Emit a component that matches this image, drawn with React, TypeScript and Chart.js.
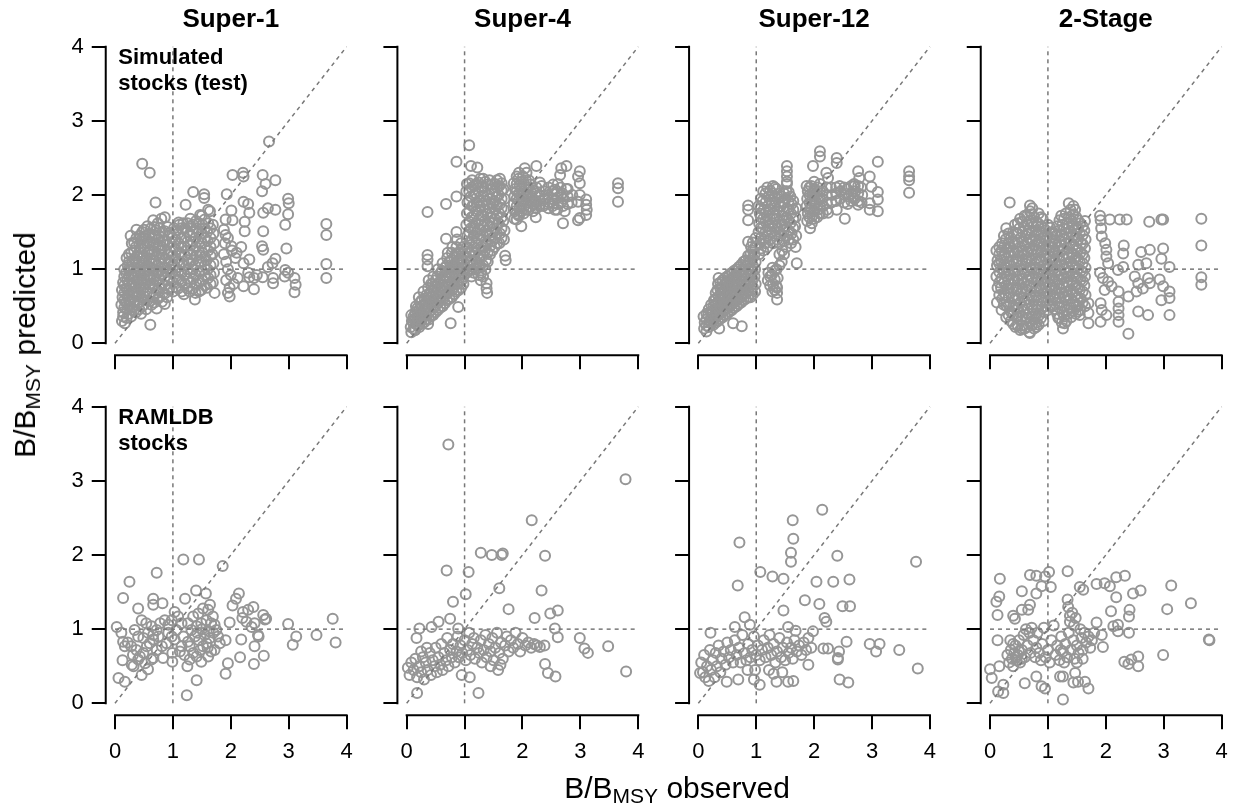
import React, { useEffect, useRef } from "react";
import { Chart, registerables } from "chart.js";
Chart.register(...registerables);

type Pt = [number, number];

const methodTitles = ["Super-1", "Super-4", "Super-12", "2-Stage"];
const rowLabels = [["Simulated", "stocks (test)"], ["RAMLDB", "stocks"]];
const tickValues = [0, 1, 2, 3, 4];
const axisMin = -0.16;
const axisMax = 4.16;
const vLine: Pt[] = [[1, 0], [1, 4]];
const hLine: Pt[] = [[0, 1], [4, 1]];
const oneToOne: Pt[] = [[0, 0], [4, 4]];

const simSuper1: Pt[] = [
  [2.66,2.72],[0.47,2.42],[0.60,2.30],[2.03,2.27],[2.21,2.30],[2.22,2.25],[2.55,2.27],[2.60,2.15],[2.77,2.20],[2.54,2.05],[1.35,2.04],[1.54,2.01],[1.54,1.96],[1.93,2.01],[1.22,1.87],[0.70,1.90],[2.22,1.91],[2.30,1.88],[2.99,1.95],[3.00,1.89],[2.64,1.82],[2.77,1.80],[2.56,1.76],[2.01,1.79],[2.32,1.76],[2.99,1.74],[1.91,1.67],[2.03,1.66],[2.24,1.64],[2.94,1.60],[3.65,1.61],[3.65,1.46],[2.56,1.51],[2.24,1.51],[1.88,1.53],[1.91,1.46],[2.96,1.28],[2.54,1.31],[2.56,1.26],[2.01,1.31],[2.10,1.22],[2.32,1.13],[2.22,1.08],[2.77,1.14],[2.72,1.08],[2.64,1.03],[3.65,1.07],[3.65,0.88],[2.94,0.99],[2.99,0.95],[3.10,0.88],[3.12,0.79],[3.10,0.69],[2.93,0.90],[2.73,0.88],[2.73,0.81],[2.55,0.89],[2.32,0.89],[2.40,0.88],[2.40,0.73],[2.22,0.77],[1.95,0.68],[1.98,0.63],[1.72,0.68],[1.38,0.59],[0.86,0.53],[0.61,0.25],[0.17,0.27],[0.14,0.36],
  [0.37,1.53],[0.66,1.66],[0.80,1.68],[0.86,1.70],[1.10,1.63],[1.18,1.62],[1.47,1.73],[1.61,1.80],[1.64,1.78],
  [0.12,0.30],[0.14,0.42],[0.11,0.52],[0.13,0.62],[0.12,0.72],[0.14,0.82],
  [0.20,0.34],[0.21,0.45],[0.19,0.55],[0.22,0.64],[0.20,0.74],[0.21,0.85],[0.19,0.95],[0.22,1.05],[0.20,1.15],
  [0.28,0.36],[0.29,0.48],[0.27,0.58],[0.30,0.68],[0.28,0.78],[0.29,0.90],[0.27,1.00],[0.30,1.10],[0.28,1.22],[0.29,1.35],[0.27,1.45],
  [0.36,0.42],[0.38,0.52],[0.37,0.63],[0.35,0.75],[0.38,0.85],[0.36,0.96],[0.37,1.08],[0.38,1.18],[0.36,1.30],[0.37,1.42],
  [0.45,0.40],[0.47,0.50],[0.46,0.61],[0.44,0.72],[0.47,0.82],[0.45,0.93],[0.46,1.05],[0.48,1.15],[0.45,1.28],[0.46,1.40],[0.47,1.50],
  [0.54,0.46],[0.56,0.58],[0.55,0.68],[0.53,0.80],[0.56,0.90],[0.55,1.00],[0.54,1.12],[0.56,1.22],[0.55,1.35],[0.53,1.45],[0.56,1.58],
  [0.63,0.52],[0.65,0.62],[0.64,0.75],[0.62,0.85],[0.65,0.98],[0.64,1.08],[0.63,1.20],[0.65,1.32],[0.64,1.42],[0.62,1.55],
  [0.72,0.47],[0.74,0.60],[0.73,0.72],[0.71,0.85],[0.74,0.95],[0.73,1.05],[0.72,1.18],[0.74,1.30],[0.73,1.40],[0.71,1.52],[0.74,1.62],
  [0.81,0.56],[0.83,0.68],[0.82,0.80],[0.80,0.92],[0.83,1.02],[0.82,1.15],[0.81,1.25],[0.83,1.38],[0.82,1.50],
  [0.90,0.62],[0.92,0.73],[0.91,0.85],[0.89,0.96],[0.92,1.10],[0.91,1.20],[0.90,1.33],[0.92,1.45],[0.91,1.57],
  [1.00,0.70],[1.01,0.82],[0.99,0.95],[1.02,1.05],[1.00,1.18],[1.01,1.30],[0.99,1.42],[1.02,1.55],
  [1.09,0.74],[1.11,0.86],[1.10,0.98],[1.08,1.10],[1.11,1.22],[1.10,1.35],[1.09,1.48],[1.11,1.60],
  [1.19,0.66],[1.21,0.80],[1.20,0.92],[1.18,1.05],[1.21,1.18],[1.20,1.30],[1.19,1.42],[1.21,1.55],
  [1.29,0.70],[1.31,0.82],[1.30,0.95],[1.28,1.08],[1.31,1.20],[1.30,1.32],[1.29,1.45],[1.31,1.58],[1.30,1.68],
  [1.39,0.68],[1.41,0.80],[1.40,0.92],[1.38,1.05],[1.41,1.18],[1.40,1.30],[1.39,1.42],[1.41,1.55],[1.40,1.65],
  [1.49,0.72],[1.51,0.85],[1.50,0.98],[1.48,1.10],[1.51,1.22],[1.50,1.35],[1.49,1.48],[1.51,1.60],[1.50,1.72],
  [1.59,0.75],[1.61,0.88],[1.60,1.00],[1.58,1.12],[1.61,1.25],[1.60,1.38],[1.59,1.50],[1.61,1.62],
  [1.69,0.82],[1.71,0.95],[1.70,1.08],[1.68,1.20],[1.71,1.35],[1.70,1.48],[1.69,1.60],
  [1.88,1.20],[1.92,1.10],[1.95,1.00],[2.00,0.92],[1.92,0.85],[2.05,0.80],[1.98,0.75],[2.08,1.15],[1.90,1.35],[2.02,1.25],[1.95,1.42],[2.12,0.88],[2.18,1.30],[2.30,0.95],[2.45,0.92]
];
const simSuper1Core: Pt[] = [
  [0.16,0.48],[0.16,0.58],[0.16,0.68],[0.16,0.78],[0.16,0.90],[0.16,1.00],
  [0.24,0.40],[0.24,0.50],[0.24,0.60],[0.24,0.70],[0.24,0.80],[0.24,0.90],[0.24,1.00],[0.24,1.10],[0.24,1.20],
  [0.33,0.45],[0.33,0.57],[0.33,0.70],[0.33,0.80],[0.33,0.92],[0.33,1.02],[0.33,1.14],[0.33,1.25],[0.33,1.36],
  [0.42,0.46],[0.42,0.56],[0.42,0.67],[0.42,0.78],[0.42,0.88],[0.42,1.00],[0.42,1.10],[0.42,1.22],[0.42,1.34],[0.42,1.45],
  [0.50,0.52],[0.50,0.63],[0.50,0.75],[0.50,0.86],[0.50,0.96],[0.50,1.08],[0.50,1.18],[0.50,1.30],[0.50,1.42],[0.50,1.53],
  [0.60,0.57],[0.60,0.68],[0.60,0.80],[0.60,0.92],[0.60,1.03],[0.60,1.14],[0.60,1.26],[0.60,1.37],[0.60,1.48],
  [0.68,0.55],[0.68,0.67],[0.68,0.79],[0.68,0.90],[0.68,1.00],[0.68,1.12],[0.68,1.24],[0.68,1.35],[0.68,1.46],[0.68,1.57],
  [0.77,0.62],[0.77,0.74],[0.77,0.86],[0.77,0.97],[0.77,1.08],[0.77,1.20],[0.77,1.32],[0.77,1.44],[0.77,1.56],
  [0.86,0.67],[0.86,0.78],[0.86,0.90],[0.86,1.02],[0.86,1.14],[0.86,1.26],[0.86,1.39],[0.86,1.51],
  [0.95,0.76],[0.95,0.88],[0.95,1.00],[0.95,1.12],[0.95,1.24],[0.95,1.36],[0.95,1.49],
  [1.05,0.76],[1.05,0.90],[1.05,1.02],[1.05,1.14],[1.05,1.26],[1.05,1.40],[1.05,1.52],
  [1.15,0.70],[1.15,0.83],[1.15,0.95],[1.15,1.08],[1.15,1.20],[1.15,1.30],[1.15,1.42],[1.15,1.55],
  [1.25,0.74],[1.25,0.87],[1.25,1.00],[1.25,1.12],[1.25,1.25],[1.25,1.37],[1.25,1.50],[1.25,1.62],
  [1.35,0.74],[1.35,0.87],[1.35,1.00],[1.35,1.12],[1.35,1.25],[1.35,1.37],[1.35,1.50],[1.35,1.60],
  [1.45,0.70],[1.45,0.84],[1.45,0.97],[1.45,1.10],[1.45,1.24],[1.45,1.36],[1.45,1.50],[1.45,1.62],
  [1.55,0.78],[1.55,0.92],[1.55,1.05],[1.55,1.17],[1.55,1.30],[1.55,1.42],[1.55,1.55],[1.55,1.67],
  [1.65,0.80],[1.65,0.92],[1.65,1.05],[1.65,1.18],[1.65,1.30],[1.65,1.42],[1.65,1.55]
];

const simSuper4: Pt[] = [
  [3.65,2.16],[3.65,2.09],[3.65,1.91],[1.08,2.67],[0.86,2.45],[1.11,2.39],[1.22,2.37],[0.36,1.77],[0.68,1.88],[0.86,1.98],[0.68,1.41],[0.86,1.50],[0.36,1.19],[0.36,1.13],[0.36,1.04],[1.70,1.18],[1.71,1.12],[1.38,0.81],[1.38,0.74],[1.39,0.68],[0.76,0.27],[0.37,0.26],[0.14,0.18],[0.89,0.49],
  [2.04,2.36],[2.24,2.39],[2.07,2.30],[2.67,2.36],[2.76,2.39],[2.65,2.27],[2.99,2.32],[2.96,2.25],[2.99,2.16],[2.30,2.17],[2.33,2.12],[2.53,2.14],[2.56,2.07],[2.76,2.08],[2.99,2.00],[3.10,1.94],[3.10,1.87],[3.11,1.80],[3.10,1.73],[2.96,1.91],[2.99,1.69],[2.96,1.66],[2.70,1.62],[2.73,1.78],[2.53,1.89],[2.56,1.80],[2.39,1.94],[2.24,1.87],[2.36,1.85],[2.23,1.70],[1.98,1.58],[1.90,1.67],[1.93,1.73],
  [0.08,0.15],[0.07,0.22],[0.09,0.30],[0.08,0.38],
  [0.15,0.18],[0.16,0.26],[0.14,0.33],[0.15,0.42],[0.16,0.50],
  [0.22,0.22],[0.23,0.30],[0.21,0.38],[0.22,0.46],[0.23,0.55],[0.21,0.62],
  [0.30,0.28],[0.31,0.36],[0.29,0.44],[0.30,0.52],[0.31,0.60],[0.29,0.70],
  [0.38,0.32],[0.39,0.42],[0.37,0.50],[0.38,0.58],[0.39,0.66],[0.37,0.75],[0.38,0.85],
  [0.46,0.38],[0.47,0.48],[0.45,0.56],[0.46,0.64],[0.47,0.72],[0.45,0.80],[0.46,0.90],
  [0.54,0.45],[0.55,0.55],[0.53,0.63],[0.54,0.72],[0.55,0.80],[0.53,0.90],[0.54,1.00],
  [0.62,0.50],[0.63,0.60],[0.61,0.70],[0.62,0.78],[0.63,0.88],[0.61,0.98],[0.62,1.08],
  [0.70,0.58],[0.71,0.68],[0.69,0.78],[0.70,0.88],[0.71,0.96],[0.69,1.05],[0.70,1.15],[0.71,1.22],
  [0.78,0.62],[0.79,0.72],[0.77,0.82],[0.78,0.92],[0.79,1.02],[0.77,1.12],[0.78,1.22],[0.79,1.30],
  [0.86,0.70],[0.87,0.80],[0.85,0.90],[0.86,1.00],[0.87,1.10],[0.85,1.20],[0.86,1.30],[0.87,1.40],
  [0.94,0.75],[0.95,0.85],[0.93,0.95],[0.94,1.05],[0.95,1.15],[0.93,1.25],[0.94,1.35],
  [1.04,0.95],[1.05,1.05],[1.03,1.15],[1.04,1.30],[1.05,1.45],[1.03,1.60],[1.04,1.75],[1.05,1.90],[1.03,2.05],[1.04,2.15],
  [1.12,0.90],[1.13,1.00],[1.11,1.12],[1.12,1.25],[1.13,1.40],[1.11,1.55],[1.12,1.70],[1.13,1.85],[1.11,1.98],[1.12,2.10],[1.13,2.20],
  [1.20,1.00],[1.21,1.10],[1.19,1.22],[1.20,1.35],[1.21,1.50],[1.19,1.62],[1.20,1.78],[1.21,1.90],[1.19,2.02],[1.20,2.15],
  [1.28,0.85],[1.29,0.95],[1.27,1.05],[1.28,1.18],[1.29,1.30],[1.27,1.45],[1.28,1.60],[1.29,1.72],[1.27,1.85],[1.28,1.98],[1.29,2.10],[1.27,2.22],
  [1.36,1.00],[1.37,1.12],[1.35,1.25],[1.36,1.38],[1.37,1.52],[1.35,1.65],[1.36,1.80],[1.37,1.92],[1.35,2.05],[1.36,2.18],
  [1.44,1.20],[1.45,1.32],[1.43,1.45],[1.44,1.58],[1.45,1.70],[1.43,1.82],[1.44,1.95],[1.45,2.08],[1.43,2.20],
  [1.52,1.30],[1.53,1.42],[1.51,1.55],[1.52,1.68],[1.53,1.80],[1.51,1.92],[1.52,2.05],[1.53,2.15],
  [1.60,1.35],[1.61,1.48],[1.59,1.62],[1.60,1.75],[1.61,1.88],[1.59,2.00],[1.60,2.12],[1.61,2.22],
  [1.68,1.40],[1.69,1.52],[1.67,1.65],[1.68,1.80],[1.69,1.95],[1.67,2.08],
  [1.86,1.68],[1.87,1.78],[1.85,1.88],[1.86,1.98],[1.87,2.08],[1.85,2.16],
  [1.94,1.72],[1.95,1.82],[1.93,1.92],[1.94,2.02],[1.95,2.12],[1.93,2.22],[1.94,2.30],
  [2.02,1.75],[2.03,1.85],[2.01,1.95],[2.02,2.05],[2.03,2.15],[2.01,2.25],
  [2.10,1.80],[2.11,1.90],[2.09,2.00],[2.10,2.10],[2.11,2.20],
  [2.18,1.78],[2.19,1.88],[2.17,1.96],[2.18,2.06],
  [2.30,1.85],[2.31,1.92],[2.29,2.00],
  [2.45,1.82],[2.46,1.90],[2.44,2.00],[2.45,2.10],
  [2.60,1.80],[2.61,1.88],[2.59,1.96],[2.60,2.05],[2.61,2.15],
  [2.70,1.85],[2.71,1.95],[2.69,2.02],
  [2.85,1.90],[2.86,2.00]
];
const simSuper4Core: Pt[] = [
  [0.12,0.20],[0.12,0.28],[0.12,0.36],
  [0.19,0.24],[0.19,0.32],[0.19,0.40],[0.19,0.48],
  [0.26,0.26],[0.26,0.34],[0.26,0.42],[0.26,0.50],[0.26,0.58],
  [0.34,0.32],[0.34,0.40],[0.34,0.48],[0.34,0.56],[0.34,0.65],
  [0.42,0.37],[0.42,0.45],[0.42,0.54],[0.42,0.62],[0.42,0.70],[0.42,0.80],
  [0.50,0.42],[0.50,0.51],[0.50,0.60],[0.50,0.68],[0.50,0.76],[0.50,0.85],
  [0.58,0.48],[0.58,0.58],[0.58,0.67],[0.58,0.75],[0.58,0.84],[0.58,0.94],
  [0.66,0.54],[0.66,0.64],[0.66,0.74],[0.66,0.83],[0.66,0.92],[0.66,1.02],
  [0.74,0.60],[0.74,0.70],[0.74,0.80],[0.74,0.90],[0.74,1.00],[0.74,1.10],
  [0.82,0.66],[0.82,0.76],[0.82,0.86],[0.82,0.96],[0.82,1.06],[0.82,1.16],
  [0.90,0.72],[0.90,0.82],[0.90,0.92],[0.90,1.02],[0.90,1.12],[0.90,1.22],
  [0.98,0.80],[0.98,0.90],[0.98,1.00],[0.98,1.10],[0.98,1.20],[0.98,1.30],
  [1.08,0.98],[1.08,1.10],[1.08,1.22],[1.08,1.36],[1.08,1.50],[1.08,1.64],[1.08,1.78],[1.08,1.92],[1.08,2.05],[1.08,2.16],
  [1.16,0.95],[1.16,1.06],[1.16,1.18],[1.16,1.30],[1.16,1.45],[1.16,1.58],[1.16,1.72],[1.16,1.86],[1.16,2.00],[1.16,2.12],
  [1.24,0.92],[1.24,1.02],[1.24,1.14],[1.24,1.26],[1.24,1.40],[1.24,1.54],[1.24,1.66],[1.24,1.80],[1.24,1.92],[1.24,2.05],[1.24,2.17],
  [1.32,0.90],[1.32,1.05],[1.32,1.18],[1.32,1.32],[1.32,1.45],[1.32,1.58],[1.32,1.72],[1.32,1.86],[1.32,1.98],[1.32,2.12],[1.32,2.22],
  [1.40,1.10],[1.40,1.22],[1.40,1.35],[1.40,1.48],[1.40,1.60],[1.40,1.74],[1.40,1.88],[1.40,2.00],[1.40,2.14],
  [1.48,1.25],[1.48,1.38],[1.48,1.50],[1.48,1.62],[1.48,1.76],[1.48,1.88],[1.48,2.02],[1.48,2.14],
  [1.56,1.35],[1.56,1.48],[1.56,1.60],[1.56,1.72],[1.56,1.85],[1.56,1.98],[1.56,2.10],[1.56,2.20],
  [1.64,1.42],[1.64,1.55],[1.64,1.70],[1.64,1.82],[1.64,1.95],[1.64,2.06],[1.64,2.16],
  [1.90,1.75],[1.90,1.85],[1.90,1.95],[1.90,2.05],[1.90,2.15],[1.90,2.25],
  [1.98,1.78],[1.98,1.88],[1.98,1.98],[1.98,2.08],[1.98,2.18],
  [2.06,1.80],[2.06,1.90],[2.06,2.00],[2.06,2.10],[2.06,2.20],
  [2.14,1.84],[2.14,1.94],[2.14,2.04],[2.14,2.14],
  [2.24,1.82],[2.24,1.92],[2.24,2.02],[2.24,2.10],
  [2.38,1.88],[2.38,1.96],[2.38,2.05],
  [2.52,1.85],[2.52,1.95],[2.52,2.05],
  [2.66,1.90],[2.66,2.00],[2.66,2.10],
  [2.78,1.88],[2.78,1.98],[2.78,2.08]
];

const simSuper12: Pt[] = [
  [2.10,2.59],[2.10,2.52],[2.39,2.50],[2.39,2.43],[3.10,2.45],[3.64,2.32],[3.64,2.25],[3.64,2.20],[3.64,2.03],[1.53,2.39],[1.53,2.32],[1.53,2.25],[1.53,2.18],[0.86,1.86],[0.86,1.80],[0.86,1.66],[0.86,1.37],[1.70,1.08],[1.36,0.59],[1.36,0.68],[1.35,0.77],[0.75,0.23],[0.60,0.27],[0.36,0.20],[0.14,0.16],[1.93,1.55],[2.53,1.68],[3.10,1.78],[3.10,1.94],[3.10,2.04],[2.96,1.80],[2.96,1.89],[2.99,2.11],[2.96,2.25],[2.76,2.32],[2.78,2.23],[2.70,2.12],[2.67,1.96],[2.76,1.87],[2.21,2.30],[2.24,2.23],[1.98,2.39],[2.24,1.76],[2.39,1.80],
  [0.10,0.20],[0.11,0.28],[0.09,0.36],
  [0.18,0.22],[0.19,0.30],[0.17,0.38],[0.18,0.46],
  [0.26,0.25],[0.27,0.33],[0.25,0.42],[0.26,0.50],[0.27,0.58],
  [0.34,0.30],[0.35,0.38],[0.33,0.46],[0.34,0.55],[0.35,0.63],[0.33,0.72],[0.34,0.80],[0.35,0.88],
  [0.42,0.35],[0.43,0.43],[0.41,0.52],[0.42,0.60],[0.43,0.68],[0.41,0.76],[0.42,0.85],
  [0.50,0.40],[0.51,0.48],[0.49,0.56],[0.50,0.65],[0.51,0.73],[0.49,0.82],[0.50,0.90],
  [0.58,0.45],[0.59,0.53],[0.57,0.62],[0.58,0.70],[0.59,0.78],[0.57,0.87],[0.58,0.95],
  [0.66,0.50],[0.67,0.58],[0.65,0.66],[0.66,0.75],[0.67,0.83],[0.65,0.92],[0.66,1.00],
  [0.74,0.55],[0.75,0.63],[0.73,0.72],[0.74,0.80],[0.75,0.90],[0.73,0.98],[0.74,1.06],
  [0.82,0.60],[0.83,0.68],[0.81,0.78],[0.82,0.86],[0.83,0.95],[0.81,1.04],[0.82,1.12],
  [0.90,0.62],[0.91,0.72],[0.89,0.82],[0.90,0.92],[0.91,1.00],[0.89,1.10],[0.90,1.20],[0.91,1.30],
  [0.98,0.70],[0.99,0.80],[0.97,0.90],[0.98,1.00],[0.99,1.10],[0.97,1.20],[0.98,1.30],[0.99,1.42],
  [1.05,1.20],[1.06,1.35],[1.04,1.50],[1.05,1.62],[1.06,1.75],[1.04,1.85],
  [1.12,1.25],[1.13,1.40],[1.11,1.55],[1.12,1.68],[1.13,1.80],[1.11,1.92],[1.12,2.05],
  [1.20,0.85],[1.21,0.95],[1.19,1.30],[1.20,1.45],[1.21,1.58],[1.19,1.72],[1.20,1.85],[1.21,1.98],[1.19,2.10],
  [1.28,0.70],[1.29,0.80],[1.27,0.92],[1.28,1.02],[1.29,1.35],[1.27,1.50],[1.28,1.62],[1.29,1.75],[1.27,1.90],[1.28,2.02],[1.29,2.12],
  [1.36,0.75],[1.37,0.88],[1.35,1.00],[1.36,1.40],[1.37,1.55],[1.35,1.68],[1.36,1.80],[1.37,1.95],[1.35,2.08],
  [1.44,1.10],[1.45,1.25],[1.43,1.45],[1.44,1.60],[1.45,1.72],[1.43,1.85],[1.44,1.98],
  [1.52,1.30],[1.53,1.45],[1.51,1.58],[1.52,1.70],[1.53,1.82],[1.51,1.95],[1.52,2.05],[1.53,2.15],
  [1.60,1.35],[1.61,1.48],[1.59,1.62],[1.60,1.75],[1.61,1.88],[1.59,1.98],
  [1.68,1.30],[1.69,1.45],[1.67,1.58],[1.68,1.70],[1.69,1.82],
  [1.88,1.65],[1.89,1.75],[1.87,1.85],[1.88,1.95],[1.89,2.05],[1.87,2.12],
  [1.96,1.62],[1.97,1.72],[1.95,1.82],[1.96,1.92],[1.97,2.02],[1.95,2.12],
  [2.05,1.70],[2.06,1.80],[2.04,1.90],[2.05,2.00],[2.06,2.10],
  [2.15,1.75],[2.16,1.85],[2.14,1.95],[2.15,2.05],
  [2.30,1.90],[2.31,2.00],[2.29,2.10],
  [2.45,1.95],[2.46,2.05],[2.44,2.12],
  [2.58,1.88],[2.59,1.98],[2.57,2.08],
  [2.70,1.95],[2.71,2.05],[2.69,2.15],
  [2.82,1.90],[2.83,2.00],[2.81,2.10]
];
const simSuper12Core: Pt[] = [
  [0.14,0.24],[0.14,0.32],[0.14,0.40],
  [0.22,0.27],[0.22,0.35],[0.22,0.43],[0.22,0.52],
  [0.30,0.28],[0.30,0.36],[0.30,0.44],[0.30,0.52],[0.30,0.60],[0.30,0.68],
  [0.38,0.33],[0.38,0.41],[0.38,0.50],[0.38,0.58],[0.38,0.66],[0.38,0.74],[0.38,0.82],
  [0.46,0.38],[0.46,0.46],[0.46,0.55],[0.46,0.63],[0.46,0.71],[0.46,0.80],[0.46,0.88],
  [0.54,0.43],[0.54,0.51],[0.54,0.60],[0.54,0.68],[0.54,0.76],[0.54,0.85],[0.54,0.93],
  [0.62,0.48],[0.62,0.56],[0.62,0.64],[0.62,0.72],[0.62,0.80],[0.62,0.90],[0.62,0.98],
  [0.70,0.53],[0.70,0.61],[0.70,0.70],[0.70,0.78],[0.70,0.87],[0.70,0.95],[0.70,1.03],
  [0.78,0.58],[0.78,0.66],[0.78,0.75],[0.78,0.83],[0.78,0.92],[0.78,1.00],[0.78,1.10],
  [0.86,0.62],[0.86,0.72],[0.86,0.82],[0.86,0.90],[0.86,1.00],[0.86,1.08],[0.86,1.18],
  [0.94,0.66],[0.94,0.76],[0.94,0.86],[0.94,0.96],[0.94,1.05],[0.94,1.15],[0.94,1.25],[0.94,1.36],
  [1.08,1.28],[1.08,1.42],[1.08,1.56],[1.08,1.70],[1.08,1.82],[1.08,1.95],
  [1.16,1.35],[1.16,1.50],[1.16,1.64],[1.16,1.76],[1.16,1.90],[1.16,2.02],
  [1.24,0.78],[1.24,0.90],[1.24,1.40],[1.24,1.54],[1.24,1.68],[1.24,1.80],[1.24,1.94],[1.24,2.06],
  [1.32,0.72],[1.32,0.86],[1.32,0.98],[1.32,1.45],[1.32,1.58],[1.32,1.72],[1.32,1.86],[1.32,1.98],[1.32,2.10],
  [1.40,1.05],[1.40,1.20],[1.40,1.35],[1.40,1.50],[1.40,1.64],[1.40,1.78],[1.40,1.90],[1.40,2.02],
  [1.48,1.20],[1.48,1.38],[1.48,1.52],[1.48,1.66],[1.48,1.78],[1.48,1.90],[1.48,2.02],
  [1.56,1.40],[1.56,1.52],[1.56,1.66],[1.56,1.80],[1.56,1.92],[1.56,2.04],
  [1.64,1.40],[1.64,1.55],[1.64,1.68],[1.64,1.80],[1.64,1.92],
  [1.92,1.70],[1.92,1.80],[1.92,1.90],[1.92,2.00],[1.92,2.10],
  [2.00,1.68],[2.00,1.78],[2.00,1.88],[2.00,1.98],[2.00,2.08],[2.00,2.18],
  [2.10,1.75],[2.10,1.85],[2.10,1.95],[2.10,2.05],[2.10,2.15],
  [2.22,1.80],[2.22,1.90],[2.22,2.00],[2.22,2.10],
  [2.38,1.92],[2.38,2.02],[2.38,2.10],
  [2.52,1.90],[2.52,2.00],[2.52,2.10],
  [2.64,1.92],[2.64,2.02],[2.64,2.12],
  [2.76,1.92],[2.76,2.02],[2.76,2.12]
];

const sim2Stage: Pt[] = [
  [0.34,1.90],[0.69,1.86],[0.73,1.82],[1.36,1.89],[1.44,1.85],[1.47,1.80],[1.90,1.72],[1.91,1.66],[2.07,1.67],[2.24,1.67],[2.36,1.67],[2.75,1.64],[2.96,1.67],[2.99,1.67],[3.65,1.68],[3.65,1.32],[3.65,0.89],[3.65,0.79],[2.99,1.28],[2.96,1.14],[3.10,1.03],[2.61,1.23],[2.76,1.26],[2.56,1.06],[2.70,1.08],[2.31,1.32],[2.30,1.21],[2.21,0.99],[2.30,1.03],[1.93,1.44],[1.99,1.35],[2.01,1.26],[2.01,1.17],[2.04,1.08],[1.92,1.55],[1.90,0.95],[1.95,0.88],[2.04,0.83],[1.98,0.72],[2.10,0.77],[2.50,0.90],[2.56,0.81],[2.73,0.88],[2.76,0.81],[2.53,0.70],[2.64,0.74],[2.93,0.86],[2.99,0.77],[3.10,0.70],[3.10,0.61],[2.96,0.58],[3.10,0.38],[2.56,0.43],[2.73,0.38],[2.39,0.13],[2.22,0.70],[2.22,0.56],[2.22,0.47],[2.22,0.38],[2.22,0.29],[2.39,0.63],[1.91,0.54],[1.93,0.45],[2.01,0.38],[1.91,0.29],[1.70,0.27],[1.70,0.41],[1.70,0.54],[1.52,0.43],[1.55,0.38],[1.29,0.27],[1.26,0.20],[1.18,0.34],[0.69,0.14],[0.80,0.22],[0.55,0.20],
  [0.12,0.55],[0.13,0.75],[0.11,0.90],[0.12,1.05],[0.13,1.12],[0.11,1.25],
  [0.20,0.45],[0.21,0.60],[0.19,0.75],[0.20,0.88],[0.21,1.00],[0.19,1.12],[0.20,1.25],[0.21,1.35],
  [0.28,0.35],[0.29,0.50],[0.27,0.65],[0.28,0.78],[0.29,0.90],[0.27,1.02],[0.28,1.15],[0.29,1.28],[0.27,1.40],[0.28,1.55],
  [0.36,0.30],[0.37,0.42],[0.35,0.55],[0.36,0.68],[0.37,0.80],[0.35,0.92],[0.36,1.05],[0.37,1.18],[0.35,1.30],[0.36,1.42],
  [0.44,0.22],[0.45,0.35],[0.43,0.48],[0.44,0.60],[0.45,0.72],[0.43,0.85],[0.44,0.98],[0.45,1.10],[0.43,1.22],[0.44,1.35],[0.45,1.48],[0.43,1.60],
  [0.52,0.18],[0.53,0.30],[0.51,0.42],[0.52,0.55],[0.53,0.68],[0.51,0.80],[0.52,0.92],[0.53,1.05],[0.51,1.18],[0.52,1.30],[0.53,1.42],[0.51,1.55],[0.52,1.68],
  [0.60,0.20],[0.61,0.32],[0.59,0.45],[0.60,0.58],[0.61,0.70],[0.59,0.82],[0.60,0.95],[0.61,1.08],[0.59,1.20],[0.60,1.32],[0.61,1.45],[0.59,1.58],[0.60,1.72],
  [0.68,0.15],[0.69,0.28],[0.67,0.40],[0.68,0.52],[0.69,0.65],[0.67,0.78],[0.68,0.90],[0.69,1.02],[0.67,1.15],[0.68,1.28],[0.69,1.40],[0.67,1.52],[0.68,1.65],[0.69,1.78],
  [0.76,0.20],[0.77,0.32],[0.75,0.45],[0.76,0.58],[0.77,0.70],[0.75,0.82],[0.76,0.95],[0.77,1.08],[0.75,1.20],[0.76,1.32],[0.77,1.45],[0.75,1.58],[0.76,1.70],
  [0.84,0.25],[0.85,0.38],[0.83,0.50],[0.84,0.62],[0.85,0.75],[0.83,0.88],[0.84,1.00],[0.85,1.12],[0.83,1.25],[0.84,1.38],[0.85,1.50],[0.83,1.62],[0.84,1.75],
  [0.92,0.30],[0.93,0.42],[0.91,0.55],[0.92,0.68],[0.93,0.80],[0.91,0.92],[0.92,1.05],[0.93,1.18],[0.91,1.30],[0.92,1.42],[0.93,1.55],[0.91,1.68],
  [1.00,0.45],[1.01,0.58],[0.99,0.70],[1.00,0.82],[1.01,0.95],[0.99,1.08],[1.00,1.20],[1.01,1.32],[0.99,1.45],[1.00,1.60],
  [1.08,0.50],[1.09,0.62],[1.07,0.75],[1.08,0.88],[1.09,1.00],[1.07,1.12],[1.08,1.25],[1.09,1.38],[1.07,1.50],
  [1.16,0.40],[1.17,0.55],[1.15,0.68],[1.16,0.80],[1.17,0.92],[1.15,1.05],[1.16,1.18],[1.17,1.30],[1.15,1.45],[1.16,1.58],
  [1.24,0.28],[1.25,0.42],[1.23,0.55],[1.24,0.68],[1.25,0.80],[1.23,0.92],[1.24,1.05],[1.25,1.18],[1.23,1.32],[1.24,1.45],[1.25,1.60],[1.23,1.72],
  [1.32,0.30],[1.33,0.45],[1.31,0.58],[1.32,0.70],[1.33,0.82],[1.31,0.95],[1.32,1.08],[1.33,1.20],[1.31,1.35],[1.32,1.48],[1.33,1.62],[1.31,1.75],
  [1.40,0.35],[1.41,0.48],[1.39,0.60],[1.40,0.72],[1.41,0.85],[1.39,0.98],[1.40,1.10],[1.41,1.22],[1.39,1.35],[1.40,1.50],[1.41,1.65],[1.39,1.80],
  [1.48,0.40],[1.49,0.52],[1.47,0.65],[1.48,0.78],[1.49,0.90],[1.47,1.02],[1.48,1.15],[1.49,1.28],[1.47,1.42],[1.48,1.55],[1.49,1.70],
  [1.56,0.45],[1.57,0.60],[1.55,0.72],[1.56,0.85],[1.57,0.98],[1.55,1.10],[1.56,1.22],[1.57,1.35],[1.55,1.48],[1.56,1.62],
  [1.64,0.50],[1.65,0.65],[1.63,0.78],[1.64,0.90],[1.65,1.02],[1.63,1.15],[1.64,1.28],[1.65,1.40],[1.63,1.52],[1.64,1.65]
];
const sim2StageCore: Pt[] = [
  [0.16,0.65],[0.16,0.82],[0.16,0.96],[0.16,1.08],[0.16,1.20],[0.16,1.30],
  [0.24,0.52],[0.24,0.68],[0.24,0.82],[0.24,0.95],[0.24,1.06],[0.24,1.18],[0.24,1.30],[0.24,1.45],
  [0.32,0.38],[0.32,0.52],[0.32,0.62],[0.32,0.74],[0.32,0.86],[0.32,0.98],[0.32,1.10],[0.32,1.22],[0.32,1.35],[0.32,1.48],
  [0.40,0.26],[0.40,0.38],[0.40,0.50],[0.40,0.62],[0.40,0.74],[0.40,0.86],[0.40,0.98],[0.40,1.12],[0.40,1.24],[0.40,1.36],[0.40,1.50],
  [0.48,0.24],[0.48,0.36],[0.48,0.48],[0.48,0.60],[0.48,0.74],[0.48,0.86],[0.48,0.98],[0.48,1.12],[0.48,1.24],[0.48,1.36],[0.48,1.48],[0.48,1.62],
  [0.56,0.24],[0.56,0.36],[0.56,0.50],[0.56,0.62],[0.56,0.74],[0.56,0.86],[0.56,1.00],[0.56,1.12],[0.56,1.24],[0.56,1.38],[0.56,1.50],[0.56,1.64],
  [0.64,0.22],[0.64,0.34],[0.64,0.46],[0.64,0.60],[0.64,0.72],[0.64,0.86],[0.64,0.98],[0.64,1.12],[0.64,1.24],[0.64,1.36],[0.64,1.48],[0.64,1.60],[0.64,1.72],
  [0.72,0.24],[0.72,0.36],[0.72,0.48],[0.72,0.62],[0.72,0.74],[0.72,0.88],[0.72,1.00],[0.72,1.12],[0.72,1.26],[0.72,1.38],[0.72,1.50],[0.72,1.62],[0.72,1.74],
  [0.80,0.28],[0.80,0.40],[0.80,0.52],[0.80,0.64],[0.80,0.76],[0.80,0.88],[0.80,1.02],[0.80,1.14],[0.80,1.26],[0.80,1.40],[0.80,1.52],[0.80,1.64],
  [0.88,0.34],[0.88,0.46],[0.88,0.58],[0.88,0.72],[0.88,0.84],[0.88,0.96],[0.88,1.10],[0.88,1.22],[0.88,1.34],[0.88,1.46],[0.88,1.58],[0.88,1.70],
  [0.96,0.50],[0.96,0.62],[0.96,0.76],[0.96,0.88],[0.96,1.00],[0.96,1.14],[0.96,1.26],[0.96,1.38],[0.96,1.52],
  [1.04,0.52],[1.04,0.66],[1.04,0.78],[1.04,0.92],[1.04,1.04],[1.04,1.16],[1.04,1.30],[1.04,1.42],[1.04,1.56],
  [1.12,0.46],[1.12,0.60],[1.12,0.72],[1.12,0.84],[1.12,0.96],[1.12,1.10],[1.12,1.22],[1.12,1.34],[1.12,1.48],
  [1.20,0.34],[1.20,0.48],[1.20,0.62],[1.20,0.74],[1.20,0.86],[1.20,0.98],[1.20,1.12],[1.20,1.24],[1.20,1.38],[1.20,1.52],[1.20,1.66],
  [1.28,0.36],[1.28,0.50],[1.28,0.62],[1.28,0.76],[1.28,0.88],[1.28,1.00],[1.28,1.14],[1.28,1.26],[1.28,1.40],[1.28,1.54],[1.28,1.68],
  [1.36,0.40],[1.36,0.52],[1.36,0.64],[1.36,0.78],[1.36,0.90],[1.36,1.02],[1.36,1.16],[1.36,1.28],[1.36,1.42],[1.36,1.56],[1.36,1.70],
  [1.44,0.44],[1.44,0.56],[1.44,0.70],[1.44,0.82],[1.44,0.94],[1.44,1.06],[1.44,1.20],[1.44,1.32],[1.44,1.46],[1.44,1.60],[1.44,1.74],
  [1.52,0.50],[1.52,0.62],[1.52,0.76],[1.52,0.88],[1.52,1.00],[1.52,1.14],[1.52,1.26],[1.52,1.40],[1.52,1.54],[1.52,1.66],
  [1.60,0.55],[1.60,0.70],[1.60,0.84],[1.60,0.96],[1.60,1.08],[1.60,1.20],[1.60,1.34],[1.60,1.46],[1.60,1.58]
];

const ramSuper1: Pt[] = [
  [0.03,1.03],[0.14,1.42],[0.25,1.64],[0.72,1.76],[1.18,1.94],[1.45,1.94],[1.86,1.85],[0.66,1.41],[0.82,1.35],[0.66,1.33],[0.40,1.28],[1.21,1.41],[1.40,1.52],[1.57,1.48],[1.64,1.33],[1.61,1.26],[2.14,1.48],[2.09,1.41],[2.03,1.32],[2.39,1.30],[2.30,1.26],[2.21,1.23],[2.20,1.15],[2.27,1.10],[2.56,1.19],[2.61,1.14],[2.59,1.13],[2.41,1.08],[2.36,1.03],[2.99,1.07],[3.76,1.14],[3.13,0.90],[3.07,0.79],[3.48,0.92],[3.81,0.82],[4.31,0.91],[2.47,0.92],[2.48,0.90],[2.41,0.77],[2.40,0.53],[2.57,0.64],[2.16,0.62],[1.95,0.54],[1.91,0.40],[2.18,0.86],[1.98,1.09],[1.91,0.85],[1.41,0.31],[1.24,0.11],[0.06,0.34],[0.17,0.29],[0.13,0.58],[0.29,0.52],[0.32,0.50],[0.46,0.38],[0.57,0.46],[0.11,0.95],[0.14,0.83],[0.17,0.77],[0.99,0.68],[0.99,0.56],[1.25,0.50],[1.12,0.70],[0.66,0.61],[0.83,0.61],
  [0.22,0.82],[0.28,0.77],[0.37,0.72],[0.31,0.65],[0.43,0.63],[0.40,0.59],[0.49,0.68],[0.55,0.77],[0.60,0.81],[0.49,0.88],[0.40,0.90],[0.34,0.99],[0.46,1.12],[0.54,1.08],[0.63,1.04],[0.72,0.99],[0.78,1.08],[0.86,1.12],[0.92,1.06],[0.98,1.12],[1.03,1.23],[1.09,1.17],[1.15,1.08],[1.06,0.99],[0.98,0.90],[0.89,0.81],[0.81,0.77],[0.72,0.72],[0.66,0.86],[0.75,0.90],[1.18,0.90],[1.26,0.83],[1.29,0.77],[1.35,0.68],[1.41,0.63],[1.47,0.72],[1.52,0.77],[1.58,0.81],[1.64,0.88],[1.70,0.95],[1.75,0.99],[1.66,1.08],[1.58,1.12],[1.49,1.08],[1.41,1.04],[1.32,0.99],[1.26,1.08],[1.35,1.17],[1.44,1.21],[1.52,1.28],[1.69,1.17],[1.72,1.06],[1.78,0.90],[1.81,0.81],[1.72,0.72],[1.61,0.63],[1.49,0.56],[1.29,0.59],[1.20,0.65],[1.15,0.77],[1.03,0.86],[0.92,0.95],[0.66,0.92],[0.57,0.95],[0.63,0.59],[0.52,0.54],
  [1.38,0.90],[1.45,0.85],[1.55,0.92],[1.62,0.97],[1.50,1.00],[1.42,0.95],[1.60,0.75],[1.66,0.70]
];

const ramSuper4: Pt[] = [
  [0.72,3.49],[3.78,3.02],[2.16,2.47],[1.28,2.03],[1.47,2.00],[1.64,2.00],[1.66,2.02],[2.39,1.99],[0.69,1.79],[1.07,1.77],[1.02,1.47],[1.60,1.55],[2.33,1.52],[0.80,1.37],[1.76,1.27],[2.21,1.15],[2.48,1.21],[2.61,1.25],[0.75,1.14],[0.55,1.10],[0.43,1.03],[0.22,1.01],[0.17,0.88],[0.89,1.01],[2.56,1.01],[2.61,0.89],[2.99,0.88],[3.07,0.74],[3.13,0.68],[3.48,0.77],[3.79,0.43],[4.32,1.16],[2.39,0.53],[2.44,0.41],[2.57,0.36],[1.24,0.14],[0.18,0.14],[1.09,0.35],[0.95,0.38],
  [0.02,0.48],[0.05,0.38],[0.08,0.55],[0.12,0.45],[0.15,0.60],[0.18,0.35],[0.22,0.50],[0.25,0.42],[0.28,0.62],[0.30,0.32],[0.33,0.55],[0.36,0.45],[0.40,0.68],[0.42,0.38],[0.45,0.58],[0.48,0.50],[0.50,0.75],[0.52,0.42],[0.55,0.62],[0.58,0.52],[0.60,0.80],[0.62,0.45],[0.65,0.68],[0.68,0.58],[0.70,0.88],[0.72,0.50],[0.75,0.72],[0.78,0.62],[0.80,0.80],[0.83,0.55],[0.86,0.70],[0.88,0.90],[0.90,0.62],[0.93,0.78],[0.96,0.68],[1.00,0.85],[1.02,0.58],[1.05,0.72],[1.08,0.95],[1.10,0.65],[1.13,0.80],[1.16,0.88],[1.18,0.60],[1.22,0.75],[1.25,0.68],[1.28,0.85],[1.30,0.55],[1.33,0.72],[1.36,0.92],[1.38,0.62],[1.42,0.80],[1.45,0.70],[1.48,0.88],[1.50,0.58],[1.53,0.75],[1.56,0.95],[1.60,0.68],[1.63,0.82],[1.66,0.60],[1.70,0.78],[1.73,0.90],[1.76,0.70],[1.80,0.85],[1.84,0.75],[1.88,0.95],[1.92,0.80],[1.96,0.70],[2.00,0.88],[2.05,0.78],[2.10,0.82],[2.15,0.75],[2.20,0.80],[2.25,0.78],[2.30,0.76],[2.38,0.78],[1.58,0.45],[1.62,0.52],[1.45,0.50],[0.35,0.75],[0.25,0.70]
];

const ramSuper12: Pt[] = [
  [2.14,2.61],[1.63,2.47],[1.64,2.22],[1.60,2.03],[1.60,1.91],[0.71,2.17],[2.40,1.99],[3.76,1.91],[1.07,1.77],[1.28,1.71],[1.47,1.68],[0.68,1.59],[2.04,1.64],[2.33,1.64],[2.61,1.67],[1.84,1.39],[2.09,1.34],[1.47,1.25],[2.49,1.31],[2.62,1.31],[4.33,1.37],[2.18,1.15],[2.21,1.10],[0.80,1.16],[0.63,1.03],[0.89,1.06],[0.21,0.95],[1.55,1.03],[1.68,0.98],[1.98,0.97],[2.96,0.80],[3.13,0.80],[3.07,0.70],[3.47,0.72],[3.79,0.47],[2.56,0.83],[2.43,0.70],[2.41,0.61],[2.41,0.59],[2.44,0.32],[2.59,0.28],[1.90,0.52],[1.06,0.25],[0.03,0.41],[1.64,0.30],[1.55,0.29],[1.35,0.29],[0.96,0.32],[0.69,0.32],[0.49,0.29],[2.16,0.74],[2.24,0.74],
  [0.05,0.55],[0.08,0.42],[0.10,0.65],[0.12,0.35],[0.15,0.50],[0.18,0.30],[0.20,0.72],[0.22,0.45],[0.25,0.58],[0.28,0.35],[0.30,0.68],[0.32,0.50],[0.35,0.78],[0.38,0.42],[0.40,0.60],[0.44,0.70],[0.47,0.52],[0.50,0.82],[0.53,0.62],[0.56,0.72],[0.60,0.55],[0.63,0.85],[0.66,0.65],[0.70,0.75],[0.73,0.55],[0.76,0.92],[0.80,0.68],[0.83,0.58],[0.86,0.80],[0.90,0.62],[0.93,0.72],[0.96,0.90],[1.00,0.65],[1.03,0.78],[1.06,0.58],[1.10,0.72],[1.13,0.85],[1.16,0.62],[1.20,0.75],[1.23,0.92],[1.26,0.65],[1.30,0.80],[1.33,0.55],[1.36,0.70],[1.40,0.88],[1.43,0.62],[1.46,0.75],[1.50,0.58],[1.53,0.82],[1.56,0.68],[1.60,0.75],[1.63,0.60],[1.66,0.85],[1.70,0.70],[1.74,0.78],[1.78,0.65],[1.82,0.82],[1.86,0.72],[1.90,0.88],[1.95,0.75],[1.22,0.45],[1.30,0.40],[1.45,0.42],[0.98,0.45],[0.85,0.45]
];

const ram2Stage: Pt[] = [
  [0.17,1.68],[0.69,1.73],[0.80,1.72],[0.95,1.71],[1.02,1.77],[1.34,1.78],[1.05,1.57],[0.89,1.58],[0.80,1.48],[0.55,1.51],[0.11,1.37],[0.16,1.44],[0.13,1.19],[0.40,1.18],[0.43,1.14],[0.55,1.26],[0.66,1.26],[0.69,1.33],[1.34,1.40],[1.55,1.57],[1.61,1.53],[1.84,1.61],[1.98,1.62],[2.07,1.58],[2.18,1.70],[2.33,1.72],[2.18,1.43],[2.47,1.48],[2.60,1.52],[3.13,1.59],[3.47,1.35],[3.06,1.27],[2.09,1.24],[2.41,1.26],[2.40,1.17],[2.13,1.04],[2.21,1.06],[2.21,0.97],[2.40,0.95],[1.84,1.09],[1.93,0.92],[1.95,0.76],[3.79,0.85],[3.78,0.86],[2.99,0.65],[2.32,0.56],[2.39,0.53],[2.44,0.59],[2.56,0.63],[2.56,0.50],[4.31,0.43],[1.26,0.05],[1.70,0.20],[1.64,0.29],[1.52,0.29],[1.44,0.28],[1.21,0.36],[1.26,0.36],[1.47,0.41],[0.95,0.20],[0.89,0.23],[0.80,0.36],[0.60,0.27],[0.23,0.25],[0.14,0.16],[0.23,0.14],[0.03,0.34],[0.00,0.46],[0.16,0.50],[0.13,0.85],
  [0.30,0.65],[0.33,0.55],[0.36,0.72],[0.38,0.60],[0.40,0.50],[0.42,0.68],[0.44,0.78],[0.46,0.58],[0.48,0.65],[0.50,0.85],[0.52,0.55],[0.55,0.72],[0.58,0.92],[0.60,0.62],[0.62,1.00],[0.65,0.78],[0.68,0.95],[0.70,0.68],[0.72,1.02],[0.75,0.85],[0.78,0.62],[0.80,0.75],[0.82,0.95],[0.85,0.68],[0.88,0.58],[0.90,0.80],[0.93,1.02],[0.96,0.62],[1.00,0.72],[1.03,0.55],[1.06,0.85],[1.10,1.05],[1.13,0.65],[1.16,0.78],[1.20,0.58],[1.23,0.90],[1.26,0.70],[1.30,0.80],[1.33,0.62],[1.36,0.95],[1.38,1.10],[1.40,0.72],[1.42,1.22],[1.44,0.85],[1.46,0.60],[1.48,1.15],[1.50,0.78],[1.53,0.68],[1.56,1.00],[1.58,0.88],[1.60,0.72],[1.63,0.95],[1.66,0.82],[1.70,0.90],[1.73,0.75],[1.76,0.85],[1.80,0.95],[1.35,1.30],[1.38,1.18],[1.45,1.05],[0.50,0.70],[0.45,0.62],[0.55,0.60],[0.40,0.80],[0.35,0.85],[1.22,0.72],[1.28,0.55],[1.50,0.55],[1.60,0.60]
];

const panelData: Pt[][][] = [
  [simSuper1.concat(simSuper1Core), simSuper4.concat(simSuper4Core), simSuper12.concat(simSuper12Core), sim2Stage.concat(sim2StageCore)],
  [ramSuper1, ramSuper4, ramSuper12, ram2Stage],
];

// layout (pixels)
const FONT = "'Liberation Sans', Arial, Helvetica, sans-serif";
const UX = 57.9;
const UY = 74.15;
const COL0 = 115;
const COL_STEP = 291.67;
const ROW0 = [343.3, 703.3];
const AXIS_W = 70;
const AXIS_H = 60;

const POINT_COLOR = "rgb(150,150,150)";
const REF_COLOR = "rgb(120,120,120)";

const rAxes = {
  id: "rAxes",
  afterDraw(chart: any) {
    const { ctx, chartArea, scales } = chart;
    const x = scales.x;
    const y = scales.y;
    ctx.save();
    ctx.strokeStyle = "#000";
    ctx.lineWidth = 2;
    ctx.lineCap = "square";
    ctx.beginPath();
    ctx.moveTo(x.getPixelForValue(tickValues[0]), chartArea.bottom);
    ctx.lineTo(x.getPixelForValue(tickValues[tickValues.length - 1]), chartArea.bottom);
    ctx.moveTo(chartArea.left, y.getPixelForValue(tickValues[0]));
    ctx.lineTo(chartArea.left, y.getPixelForValue(tickValues[tickValues.length - 1]));
    ctx.stroke();
    ctx.restore();
  },
};

function geom(col: number, row: number) {
  const x0 = COL0 + COL_STEP * col;
  const y0 = ROW0[row];
  const caLeft = x0 + axisMin * UX;
  const caRight = x0 + axisMax * UX;
  const caTop = y0 - axisMax * UY;
  const caBottom = y0 - axisMin * UY;
  const cl = Math.floor(caLeft - AXIS_W);
  const ct = Math.floor(caTop - 28);
  const cw = Math.ceil(caRight + 36 - cl);
  const ch = Math.ceil(caBottom + AXIS_H - ct);
  return {
    x0, y0, cl, ct, cw, ch,
    aw: caLeft - cl,
    pt: caTop - ct,
    pr: cl + cw - caRight,
    pb: ct + ch - caBottom - AXIS_H,
  };
}

function Panel({ col, row }: { col: number; row: number }) {
  const ref = useRef<HTMLCanvasElement>(null);
  const g = geom(col, row);
  useEffect(() => {
    const pts = panelData[row][col].map(([x, y]) => ({ x, y }));
    const toXY = (a: Pt[]) => a.map(([x, y]) => ({ x, y }));
    const refStyle = {
      showLine: true,
      borderColor: REF_COLOR,
      borderWidth: 1.5,
      borderDash: [4, 4],
      pointRadius: 0,
      fill: false,
    };
    const showXLabels = row === 1;
    const showYLabels = col === 0;
    const chart = new Chart(ref.current as HTMLCanvasElement, {
      type: "scatter",
      data: {
        datasets: [
          { ...refStyle, data: toXY(vLine) },
          { ...refStyle, data: toXY(hLine) },
          { ...refStyle, data: toXY(oneToOne) },
          {
            data: pts,
            pointStyle: "circle",
            pointRadius: 5,
            pointBorderWidth: 2,
            pointBorderColor: POINT_COLOR,
            pointBackgroundColor: "rgba(0,0,0,0)",
            clip: false,
          } as any,
        ],
      },
      options: {
        responsive: false,
        maintainAspectRatio: false,
        animation: false,
        events: [],
        layout: { padding: { left: 0, top: g.pt, right: g.pr, bottom: g.pb } },
        plugins: { legend: { display: false }, tooltip: { enabled: false }, title: { display: false } },
        scales: {
          x: {
            type: "linear",
            position: "bottom",
            min: axisMin,
            max: axisMax,
            afterBuildTicks: (s: any) => { s.ticks = tickValues.map((v) => ({ value: v })); },
            afterFit: (s: any) => { s.height = AXIS_H; },
            grid: { drawOnChartArea: false, drawTicks: true, tickLength: 14, tickWidth: 2, tickColor: "#000", lineWidth: 2, color: "#000" },
            border: { display: false },
            ticks: { display: showXLabels, color: "#000", font: { family: FONT, size: 22 }, padding: 10, maxRotation: 0, autoSkip: false },
          },
          y: {
            type: "linear",
            position: "left",
            min: axisMin,
            max: axisMax,
            afterBuildTicks: (s: any) => { s.ticks = tickValues.map((v) => ({ value: v })); },
            afterFit: (s: any) => { s.width = g.aw; },
            grid: { drawOnChartArea: false, drawTicks: true, tickLength: 14, tickWidth: 2, tickColor: "#000", lineWidth: 2, color: "#000" },
            border: { display: false },
            ticks: { display: showYLabels, color: "#000", font: { family: FONT, size: 22 }, padding: 8, autoSkip: false },
          },
        },
      } as any,
      plugins: [rAxes],
    });
    return () => chart.destroy();
  }, []);
  return (
    <canvas
      ref={ref}
      width={g.cw}
      height={g.ch}
      style={{ position: "absolute", left: g.cl, top: g.ct, width: g.cw, height: g.ch }}
    />
  );
}

export default function App() {
  const panels = [];
  for (let r = 0; r < 2; r++) for (let c = 0; c < 4; c++) panels.push(<Panel key={`${r}-${c}`} col={c} row={r} />);
  const sub = { fontSize: "0.7em", verticalAlign: "-0.22em", lineHeight: 0 } as React.CSSProperties;
  return (
    <div style={{ position: "absolute", left: 0, top: 0, width: 1249, height: 809, background: "#fff", overflow: "hidden", fontFamily: FONT, color: "#000" }}>
      {panels}
      {methodTitles.map((t, c) => (
        <div key={t} style={{ position: "absolute", left: COL0 + COL_STEP * c + 2 * UX, top: 5, transform: "translateX(-50%)", fontSize: 26, lineHeight: "26px", fontWeight: "bold", whiteSpace: "nowrap" }}>{t}</div>
      ))}
      {rowLabels.map((lines, r) => (
        <div key={r} style={{ position: "absolute", left: 118.3, top: ROW0[r] - 299.6, fontSize: 22, lineHeight: "26px", fontWeight: "bold", whiteSpace: "nowrap" }}>
          {lines[0]}<br />{lines[1]}
        </div>
      ))}
      <div style={{ position: "absolute", left: 25, top: 345, width: 0, height: 0 }}>
        <div style={{ position: "absolute", left: 0, top: 0, transform: "translate(-50%, -50%) rotate(-90deg)", fontSize: 30, lineHeight: "30px", whiteSpace: "nowrap" }}>
          B/B<span style={sub}>MSY</span> predicted
        </div>
      </div>
      <div style={{ position: "absolute", left: 677, top: 788, width: 0, height: 0 }}>
        <div style={{ position: "absolute", left: 0, top: 0, transform: "translate(-50%, -50%)", fontSize: 30, lineHeight: "30px", whiteSpace: "nowrap" }}>
          B/B<span style={sub}>MSY</span> observed
        </div>
      </div>
    </div>
  );
}
